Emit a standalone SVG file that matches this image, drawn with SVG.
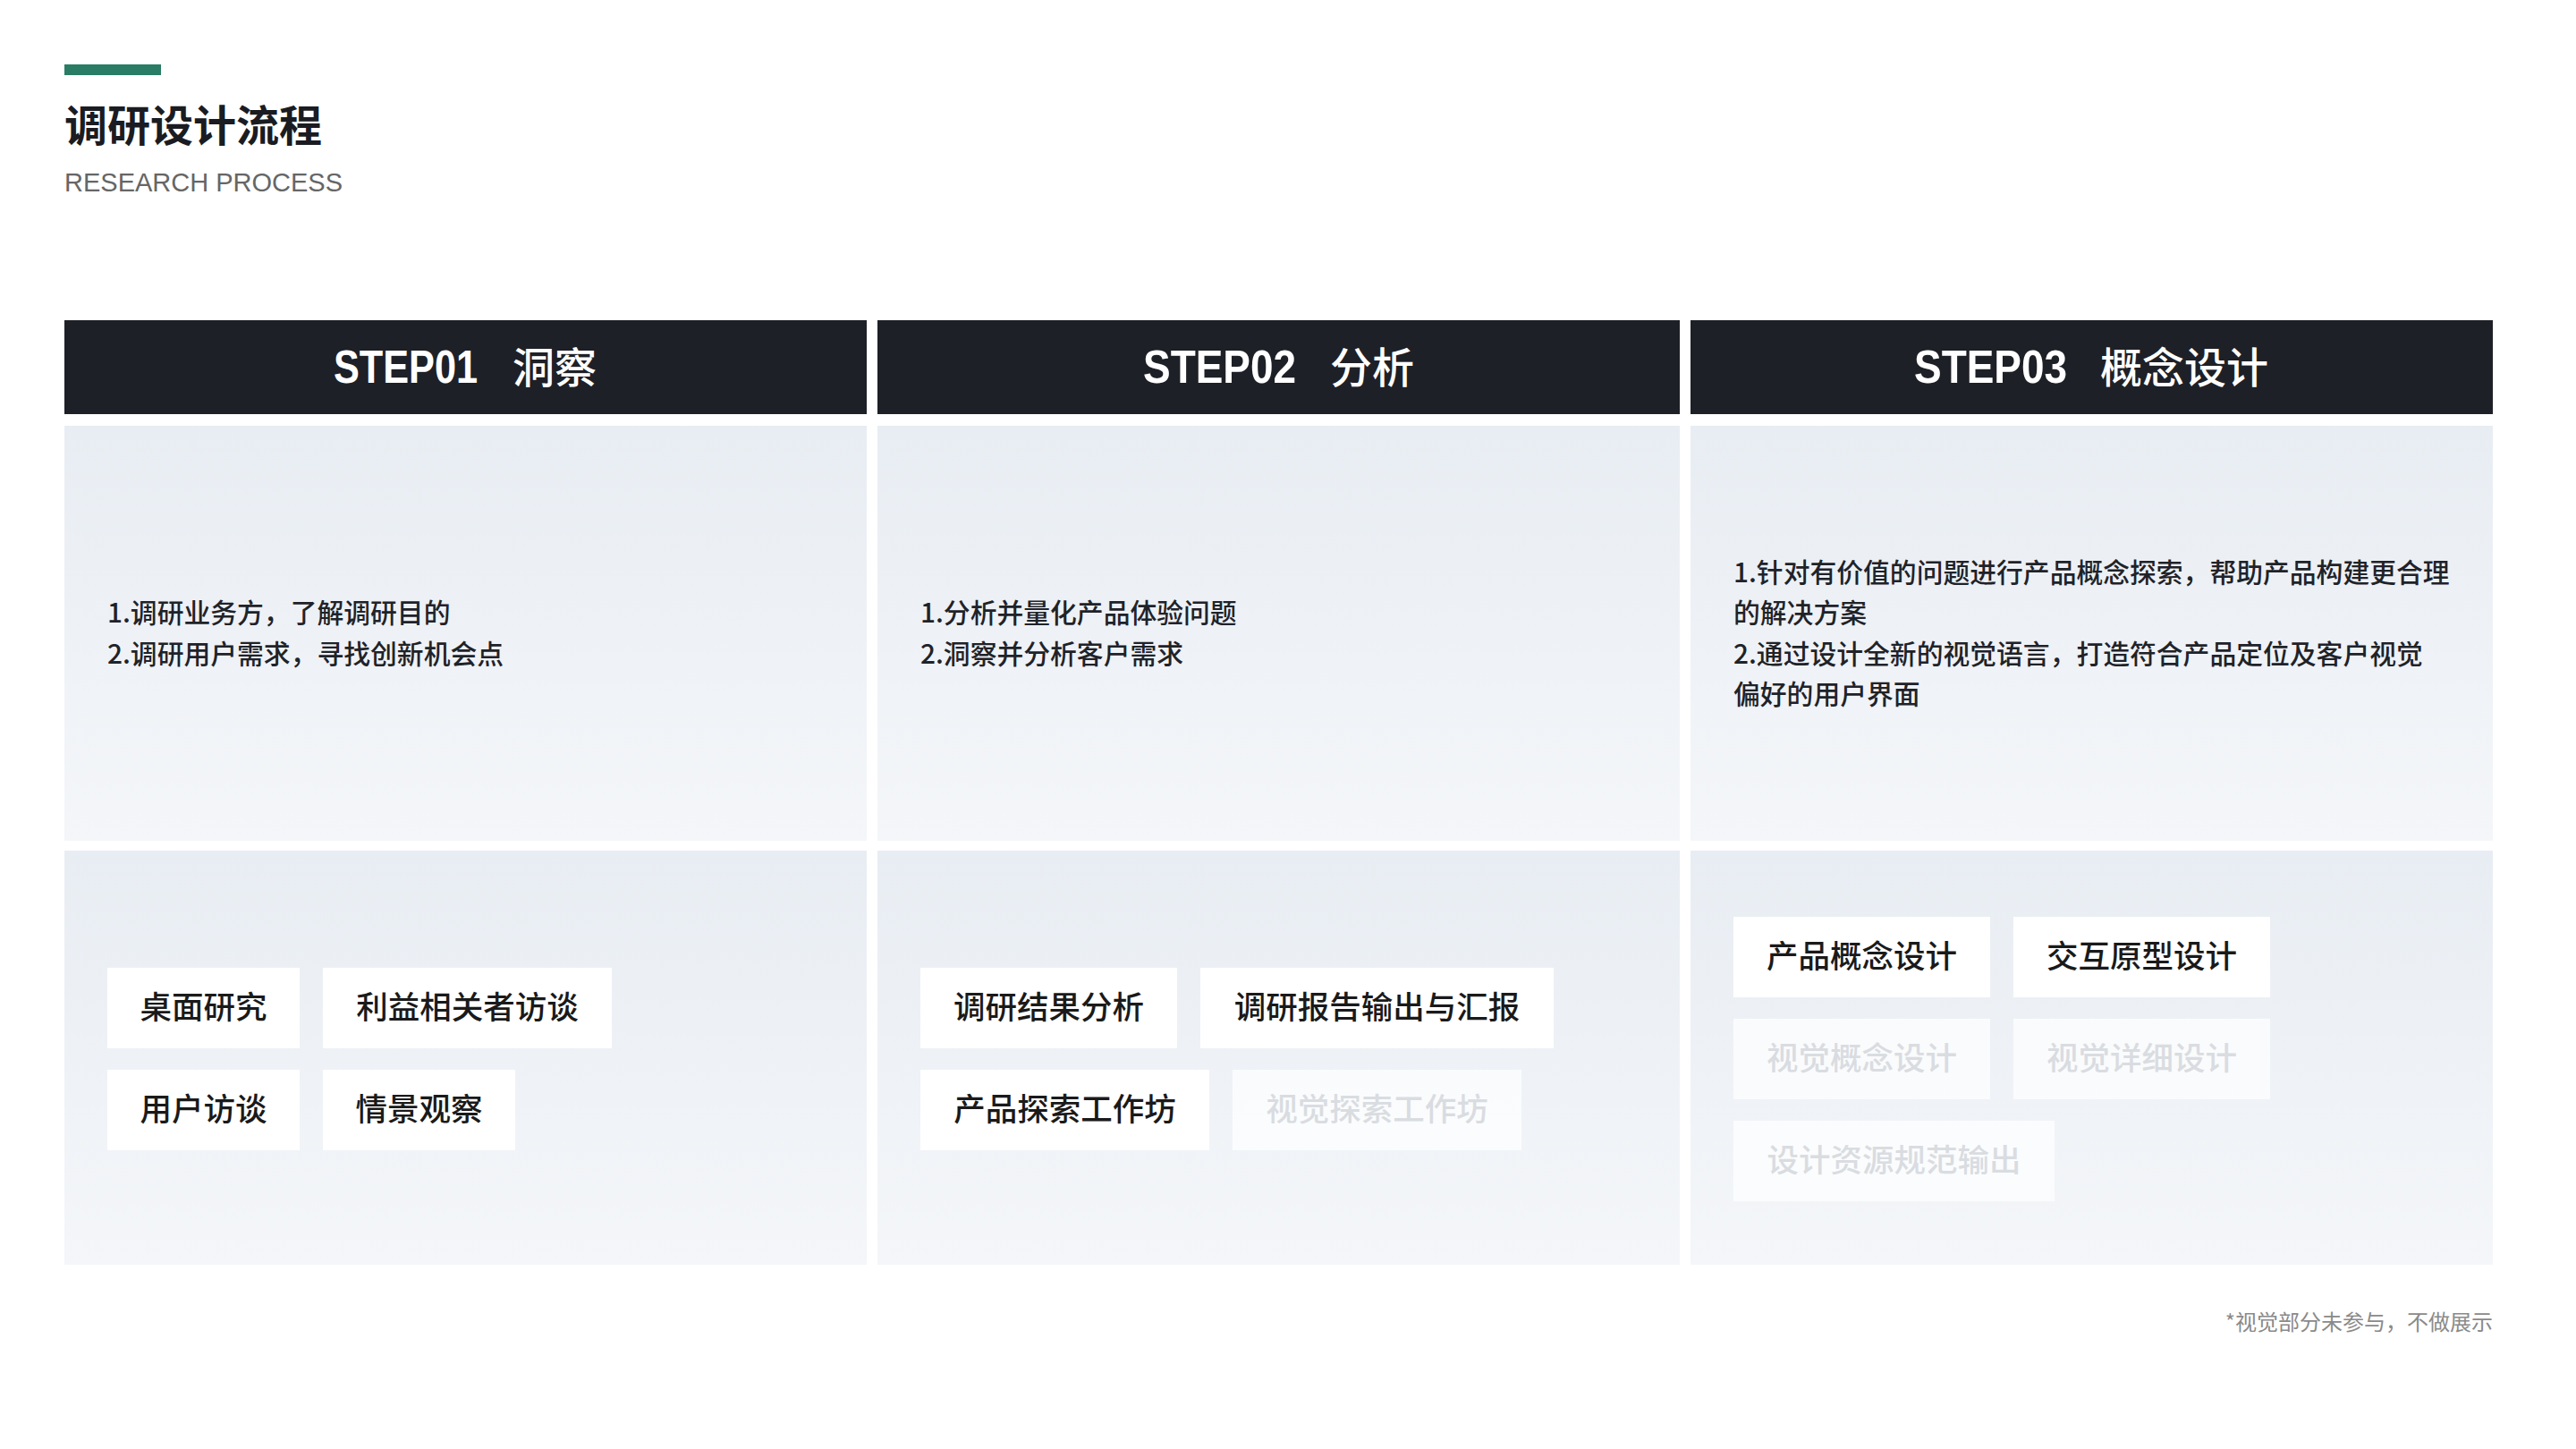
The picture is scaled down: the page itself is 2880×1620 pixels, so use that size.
<svg xmlns="http://www.w3.org/2000/svg" width="2880" height="1620" viewBox="0 0 2880 1620">
<defs>
<linearGradient id="bg" x1="0" y1="0" x2="0" y2="1">
<stop offset="0" stop-color="#e8edf3"/>
<stop offset="1" stop-color="#f4f6f9"/>
</linearGradient>
<style>
.hd{fill:#1e2027}
.box{fill:url(#bg)}
.step{font-family:"Liberation Sans","Noto Sans CJK SC",sans-serif;font-weight:700;font-size:51px;fill:#ffffff}
.hcn{font-family:"Noto Sans CJK SC",sans-serif;font-weight:500;font-size:47px;fill:#ffffff}
.desc{font-family:"Noto Sans CJK SC",sans-serif;font-weight:500;font-size:29.8px;fill:#1f2329}
.tag{fill:#ffffff}
.tagf{fill:#ffffff;opacity:0.7}
.tt{font-family:"Noto Sans CJK SC",sans-serif;font-weight:500;font-size:35.5px;fill:#1a1a1a;text-anchor:middle}
.ttf{font-family:"Noto Sans CJK SC",sans-serif;font-weight:500;font-size:35.5px;fill:#d9dce1;text-anchor:middle}
</style>
</defs>
<rect width="2880" height="1620" fill="#ffffff"/>
<g id="title">
<rect x="72" y="72" width="108" height="12" fill="#2a7d64"/>
<text x="72" y="158" font-family="Noto Sans CJK SC, sans-serif" font-weight="700" font-size="48" fill="#1a1c22">调研设计流程</text>
<text x="72" y="214" font-family="Liberation Sans, sans-serif" font-size="29" fill="#666666" textLength="311" lengthAdjust="spacingAndGlyphs">RESEARCH PROCESS</text>
</g>
<g id="step1">
<rect class="hd" x="72" y="358" width="897" height="105"/>
<text class="step" x="373" y="428" textLength="161" lengthAdjust="spacingAndGlyphs">STEP01</text>
<text class="hcn" x="573" y="428">洞察</text>
<rect class="box" x="72" y="476" width="897" height="464"/>
<text class="desc" x="120" y="696">1.调研业务方，了解调研目的</text>
<text class="desc" x="120" y="742">2.调研用户需求，寻找创新机会点</text>
<rect class="box" x="72" y="951" width="897" height="463"/>
<rect class="tag" x="120" y="1082" width="215" height="90"/><text class="tt" x="227.5" y="1139">桌面研究</text>
<rect class="tag" x="361" y="1082" width="323" height="90"/><text class="tt" x="522.5" y="1139">利益相关者访谈</text>
<rect class="tag" x="120" y="1196" width="215" height="90"/><text class="tt" x="227.5" y="1253">用户访谈</text>
<rect class="tag" x="361" y="1196" width="215" height="90"/><text class="tt" x="468.5" y="1253">情景观察</text>
</g>
<g id="step2">
<rect class="hd" x="981" y="358" width="897" height="105"/>
<text class="step" x="1278" y="428" textLength="171" lengthAdjust="spacingAndGlyphs">STEP02</text>
<text class="hcn" x="1487" y="428">分析</text>
<rect class="box" x="981" y="476" width="897" height="464"/>
<text class="desc" x="1029" y="696">1.分析并量化产品体验问题</text>
<text class="desc" x="1029" y="742">2.洞察并分析客户需求</text>
<rect class="box" x="981" y="951" width="897" height="463"/>
<rect class="tag" x="1029" y="1082" width="287" height="90"/><text class="tt" x="1172.5" y="1139">调研结果分析</text>
<rect class="tag" x="1342" y="1082" width="395" height="90"/><text class="tt" x="1539.5" y="1139">调研报告输出与汇报</text>
<rect class="tag" x="1029" y="1196" width="323" height="90"/><text class="tt" x="1190.5" y="1253">产品探索工作坊</text>
<rect class="tagf" x="1378" y="1196" width="323" height="90"/><text class="ttf" x="1539.5" y="1253">视觉探索工作坊</text>
</g>
<g id="step3">
<rect class="hd" x="1890" y="358" width="897" height="105"/>
<text class="step" x="2140" y="428" textLength="171" lengthAdjust="spacingAndGlyphs">STEP03</text>
<text class="hcn" x="2348" y="428">概念设计</text>
<rect class="box" x="1890" y="476" width="897" height="464"/>
<text class="desc" x="1938" y="651">1.针对有价值的问题进行产品概念探索，帮助产品构建更合理</text>
<text class="desc" x="1938" y="696">的解决方案</text>
<text class="desc" x="1938" y="742">2.通过设计全新的视觉语言，打造符合产品定位及客户视觉</text>
<text class="desc" x="1938" y="787">偏好的用户界面</text>
<rect class="box" x="1890" y="951" width="897" height="463"/>
<rect class="tag" x="1938" y="1025" width="287" height="90"/><text class="tt" x="2081.5" y="1082">产品概念设计</text>
<rect class="tag" x="2251" y="1025" width="287" height="90"/><text class="tt" x="2394.5" y="1082">交互原型设计</text>
<rect class="tagf" x="1938" y="1139" width="287" height="90"/><text class="ttf" x="2081.5" y="1196">视觉概念设计</text>
<rect class="tagf" x="2251" y="1139" width="287" height="90"/><text class="ttf" x="2394.5" y="1196">视觉详细设计</text>
<rect class="tagf" x="1938" y="1253" width="359" height="90"/><text class="ttf" x="2117.5" y="1310">设计资源规范输出</text>
</g>
<g id="connectors"></g>
<text x="2787" y="1487" font-family="Noto Sans CJK SC, sans-serif" font-size="24" fill="#8a8a8a" text-anchor="end">*视觉部分未参与，不做展示</text>
</svg>
